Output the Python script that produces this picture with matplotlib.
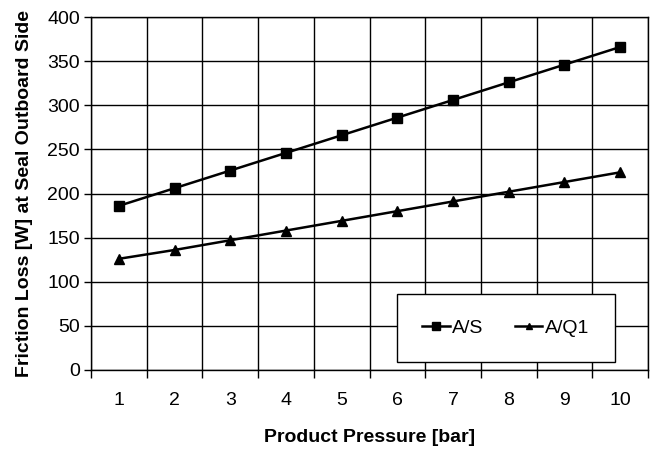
import matplotlib
matplotlib.use("Agg")
import matplotlib.pyplot as plt
import numpy as np

categories = ["1", "2", "3", "4", "5", "6", "7", "8", "9", "10"]
as_values = [186, 206, 226, 246, 266, 286, 306, 326, 346, 366]
aq1_values = [126, 136, 147, 158, 169, 180, 191, 202, 213, 224]
yticks = [0, 50, 100, 150, 200, 250, 300, 350, 400]

plt.rcParams['font.family'] = ['Liberation Sans', 'DejaVu Sans']

fig = plt.figure(figsize=(6.51, 4.49), dpi=100)
ax = fig.add_axes([91/651, 1 - 370/449, (648-91)/651, (370-17)/449])

x = np.arange(1, len(categories) + 1)
ax.plot(x, as_values, color='black', lw=1.8, marker='s', ms=7.5, label='A/S', zorder=3)
ax.plot(x, aq1_values, color='black', lw=1.8, marker='^', ms=6.5, label='A/Q1', zorder=3)

ax.set_xlim(0.5, len(categories) + 0.5)
ax.set_ylim(0, 400)
ax.set_yticks(yticks)
ax.set_yticklabels([str(v) for v in yticks], fontsize=14)
ax.set_xticks(x)
ax.set_xticklabels(categories, fontsize=14)
ax.tick_params(axis='x', which='major', length=0, pad=16)
ax.set_xticks(np.arange(0.5, len(categories) + 1, 1), minor=True)
ax.tick_params(axis='x', which='minor', length=6, width=1, direction='out')
ax.tick_params(axis='y', length=5, width=1, direction='out', pad=3)

ax.grid(True, axis='y', color='black', lw=1)
ax.grid(True, axis='x', which='minor', color='black', lw=1)
ax.set_axisbelow(True)
for s in ax.spines.values():
    s.set_color('black')
    s.set_linewidth(1)

ax.set_xlabel('Product Pressure [bar]', fontsize=14, fontweight='bold', labelpad=14)
ax.set_ylabel('Friction Loss [W] at Seal Outboard Side', fontsize=14, fontweight='bold', labelpad=10)

leg = ax.legend(loc='lower left', bbox_to_anchor=((397-91)/557, (370-362)/353, (615-397)/557, (362-281)/353),
                mode='expand', ncol=2, frameon=True, fancybox=False, fontsize=14,
                handlelength=1.4, handletextpad=0.15, borderaxespad=0, borderpad=1.3,
                columnspacing=2.4, markerscale=0.7)
leg.get_frame().set_edgecolor('black')
leg.get_frame().set_linewidth(1)
leg.get_frame().set_facecolor('white')
leg.get_frame().set_alpha(1)

fig.savefig('out.png', dpi=100)
